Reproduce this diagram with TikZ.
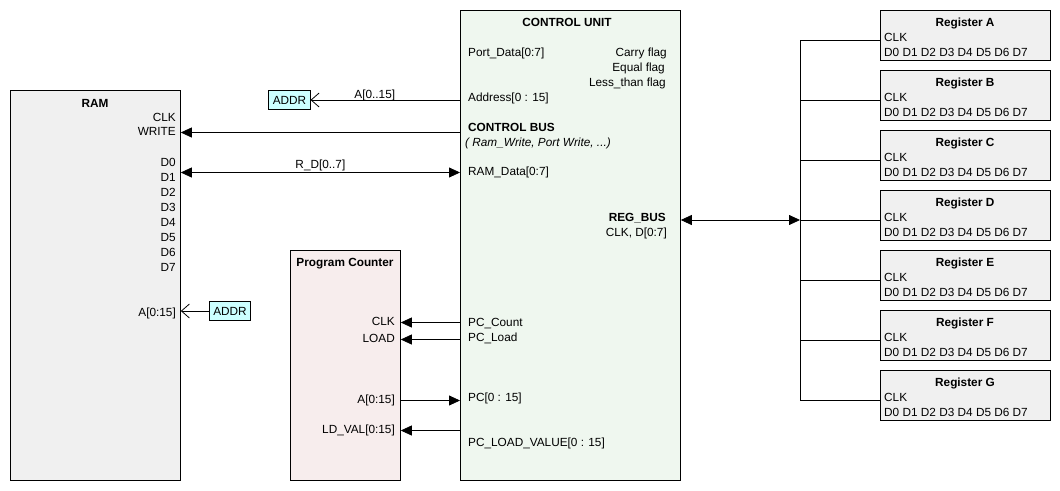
\documentclass[tikz,border=0pt]{standalone}
\usepackage{fontspec}
\setmainfont{Liberation Sans}
\usetikzlibrary{arrows.meta}
\definecolor{boxgray}{HTML}{F0F0F0}
\definecolor{cugreen}{HTML}{EFF7EF}
\definecolor{pcpink}{HTML}{F7EDED}
\definecolor{addrcyan}{HTML}{CCFFFF}

\begin{document}
\begin{tikzpicture}[x=1pt,y=-1pt,font=\fontsize{11.8}{14}\selectfont]
  \tikzset{box/.style={draw,line width=0.8pt,anchor=north west,inner sep=0},
    lbl/.style={inner sep=0,text height=8pt,text depth=2pt,yshift=-1.5pt},
    ttl/.style={lbl,font=\fontsize{11.8}{14}\selectfont\bfseries},
    wire/.style={line width=0.8pt},
    tri/.style={wire,-{Triangle[length=11pt,width=10pt]}},
    dbl/.style={wire,{Triangle[length=11pt,width=10pt]}-{Triangle[length=11pt,width=10pt]}},
    barb/.style={wire,-{Straight Barb[length=8pt,width=14pt]}},
    tag/.style={draw,fill=addrcyan,line width=0.6pt,inner xsep=4pt,minimum height=19pt,inner ysep=0}}
  \useasboundingbox (0,0) rectangle (1060,490);

  \node[box,fill=boxgray,minimum width=170pt,minimum height=390pt] (ram) at (10,90) {};
  \node[ttl] (ramttl) at (95,103) {RAM};
  \node[lbl,anchor=east] (ramclk) at (176,117) {CLK};
  \node[lbl,anchor=east] (ramwrite) at (176,131) {WRITE};
  \foreach \i in {0,...,7}
    \node[lbl,anchor=east] (ramd\i) at (176,{162+15*\i}) {D\i};
  \node[lbl,anchor=east] (ramaddr) at (176,312) {A[0:15]};

  \node[box,fill=cugreen,minimum width=220pt,minimum height=470pt] (cu) at (460,10) {};
  \node[ttl] (cuttl) at (567,22) {CONTROL UNIT};
  \node[lbl,anchor=west] (portdata) at (468,52) {Port\_Data[0:7]};
  \node[lbl,anchor=east] (carry) at (667,52) {Carry flag};
  \node[lbl,anchor=east] (equal) at (665,67) {Equal flag};
  \node[lbl,anchor=east] (lessthan) at (666,82) {Less\_than flag};
  \node[lbl,anchor=west] (address) at (468,97) {Address[0 : 15]};
  \node[ttl,anchor=west] (ctrlbus) at (468,127) {CONTROL BUS};
  \node[lbl,anchor=west,font=\fontsize{11.8}{14}\selectfont\itshape] (ctrlsig) at (465,142) {( Ram\_Write, Port Write, ...)};
  \node[lbl,anchor=west] (ramdata) at (468,171) {RAM\_Data[0:7]};
  \node[ttl,anchor=east] (regbus) at (666,217) {REG\_BUS};
  \node[lbl,anchor=east] (regsig) at (667,232) {CLK, D[0:7]};
  \node[lbl,anchor=west] (pccount) at (468,322) {PC\_Count};
  \node[lbl,anchor=west] (pcloadsig) at (468,337) {PC\_Load};
  \node[lbl,anchor=west] (pcval) at (468,397) {PC[0 : 15]};
  \node[lbl,anchor=west] (pcldvalue) at (468,442) {PC\_LOAD\_VALUE[0 : 15]};

  \node[box,fill=pcpink,minimum width=110pt,minimum height=230pt] (pc) at (290,250) {};
  \node[ttl] (pcttl) at (345,262) {Program Counter};
  \node[lbl,anchor=east] (pcclk) at (395,321) {CLK};
  \node[lbl,anchor=east] (pcload) at (395,338) {LOAD};
  \node[lbl,anchor=east] (pcaddr) at (395,399) {A[0:15]};
  \node[lbl,anchor=east] (pcldval) at (395,429) {LD\_VAL[0:15]};

  \node[tag] (addrtop) at (289.5,100) {ADDR};
  \node[tag] (addrbot) at (230,311) {ADDR};

  \draw[barb] (cu.west |- addrtop) -- node[pos=0.57,above=1pt,lbl] {A[0..15]} (addrtop.east);
  \draw[tri] (cu.west |- ramwrite) -- (ramwrite -| ram.east);
  \draw[dbl] (ramdata -| ram.east) -- node[midway,above=3pt,lbl] {R\_D[0..7]} (ramdata -| cu.west);
  \draw[barb] (addrbot.west) -- (addrbot.west -| ram.east);
  \draw[tri] (pcclk -| cu.west) -- (pcclk -| pc.east);
  \draw[tri] (pcload -| cu.west) -- (pcload -| pc.east);
  \draw[tri] (pcaddr -| pc.east) -- (pcaddr -| cu.west);
  \draw[tri] (pcldval -| cu.west) -- (pcldval -| pc.east);

  \foreach \r [count=\i from 0] in {A,B,C,D,E,F,G} {
    \node[box,fill=boxgray,minimum width=170pt,minimum height=50pt] (reg\r) at (880,{10+60*\i}) {};
    \node[ttl] (ttl\r) at (965,{22+60*\i}) {Register \r};
    \node[lbl,anchor=west] (clk\r) at (884,{37+60*\i}) {CLK};
    \node[lbl,anchor=west] (data\r) at (884,{52+60*\i}) {D0 D1 D2 D3 D4 D5 D6 D7};
    \coordinate (bus\r) at (800,{40+60*\i});
    \draw[wire] (bus\r) -- (bus\r -| reg\r.west);
  }
  \draw[wire] (busA) -- (busG);
  \draw[dbl] (cu.east |- busD) -- (busD);
\end{tikzpicture}
\end{document}
